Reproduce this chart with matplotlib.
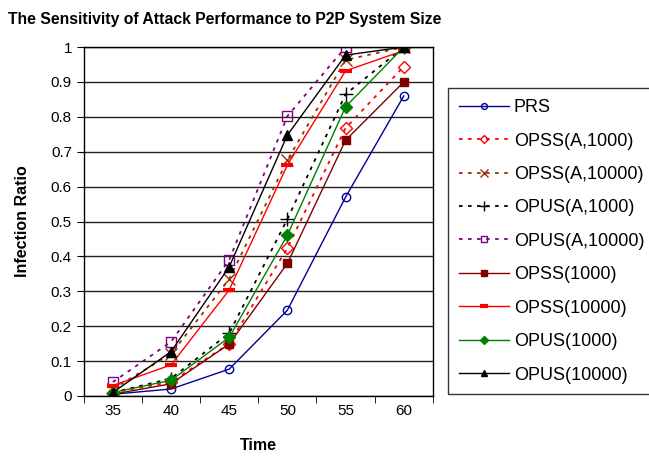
import matplotlib
matplotlib.use("Agg")
import matplotlib.pyplot as plt
import numpy as np

times = [35, 40, 45, 50, 55, 60]

prs = [0.005, 0.02, 0.077, 0.246, 0.57, 0.86]
opss_a1000 = [0.01, 0.04, 0.15, 0.424, 0.768, 0.944]
opss_a10000 = [0.02, 0.12, 0.335, 0.676, 0.963, 1.0]
opus_a1000 = [0.01, 0.05, 0.18, 0.507, 0.865, 1.0]
opus_a10000 = [0.04, 0.155, 0.39, 0.802, 1.0, 1.0]
opss_1000 = [0.005, 0.035, 0.149, 0.38, 0.733, 0.90]
opss_10000 = [0.03, 0.089, 0.304, 0.662, 0.932, 0.99]
opus_1000 = [0.01, 0.045, 0.168, 0.461, 0.829, 1.0]
opus_10000 = [0.01, 0.127, 0.37, 0.748, 0.977, 1.0]

plt.rcParams['font.family'] = ['Liberation Sans', 'DejaVu Sans']

fig = plt.figure(figsize=(6.49, 4.57), dpi=100)
ax = fig.add_axes([0.129, 0.1335, 0.538, 0.7635])

x = np.arange(len(times))
ax.plot(x, prs, color='#000099', lw=1, marker='o', ms=6, mfc='none', mec='#000099', label='PRS')
ax.plot(x, opss_a1000, color='#ff0000', lw=1.3, ls=(0, (2, 3)), marker='D', ms=6, mfc='none', mec='#ff0000', label='OPSS(A,1000)')
ax.plot(x, opss_a10000, color='#993300', lw=1.3, ls=(0, (2, 3)), marker='x', ms=8, mec='#993300', label='OPSS(A,10000)')
ax.plot(x, opus_a1000, color='black', lw=1.3, ls=(0, (2, 3)), marker='+', ms=10, label='OPUS(A,1000)')
ax.plot(x, opus_a10000, color='#800080', lw=1.3, ls=(0, (2, 3)), marker='s', ms=7, mfc='none', mec='#800080', label='OPUS(A,10000)')
ax.plot(x, opss_1000, color='#800000', lw=1, marker='s', ms=6, label='OPSS(1000)')
ax.plot(x, opss_10000, color='#ff0000', lw=1, marker='_', ms=9, mew=3, label='OPSS(10000)')
ax.plot(x, opus_1000, color='#008000', lw=1, marker='D', ms=6, label='OPUS(1000)')
ax.plot(x, opus_10000, color='black', lw=1, marker='^', ms=7, label='OPUS(10000)')

ax.set_xlim(-0.5, len(times) - 0.5)
ax.set_ylim(0, 1)
ax.set_xticks(x)
ax.set_xticklabels([str(t) for t in times])
ax.set_xticks(np.arange(-0.5, len(times), 1.0), minor=True)
ax.tick_params(axis='x', which='major', length=0, labelsize=11, pad=6)
ax.tick_params(axis='x', which='minor', length=5, direction='out', color='black')
ax.set_yticks(np.arange(0, 1.01, 0.1))
ax.set_yticklabels(['0', '0.1', '0.2', '0.3', '0.4', '0.5', '0.6', '0.7', '0.8', '0.9', '1'])
ax.tick_params(axis='y', length=5, direction='out', labelsize=11)
ax.yaxis.grid(True, color='#222222', lw=1)
ax.set_axisbelow(True)
for s in ax.spines.values():
    s.set_color('black')
    s.set_linewidth(1)

ax.set_xlabel('Time', fontsize=11.5, fontweight='bold', labelpad=14)
ax.set_ylabel('Infection Ratio', fontsize=11.5, fontweight='bold', labelpad=15)
fig.text(0.012, 0.958, 'The Sensitivity of Attack Performance to P2P System Size',
         fontsize=11.3, fontweight='bold', ha='left', va='center')

leg = ax.legend(loc='upper left', bbox_to_anchor=(1.043, 0.882), borderaxespad=0,
                fontsize=13, frameon=True, fancybox=False, edgecolor='black',
                handlelength=2.8, labelspacing=0.91, borderpad=0.6,
                handletextpad=0.25, markerscale=0.7)
leg.get_frame().set_linewidth(1)

fig.savefig('out.png', dpi=100)
